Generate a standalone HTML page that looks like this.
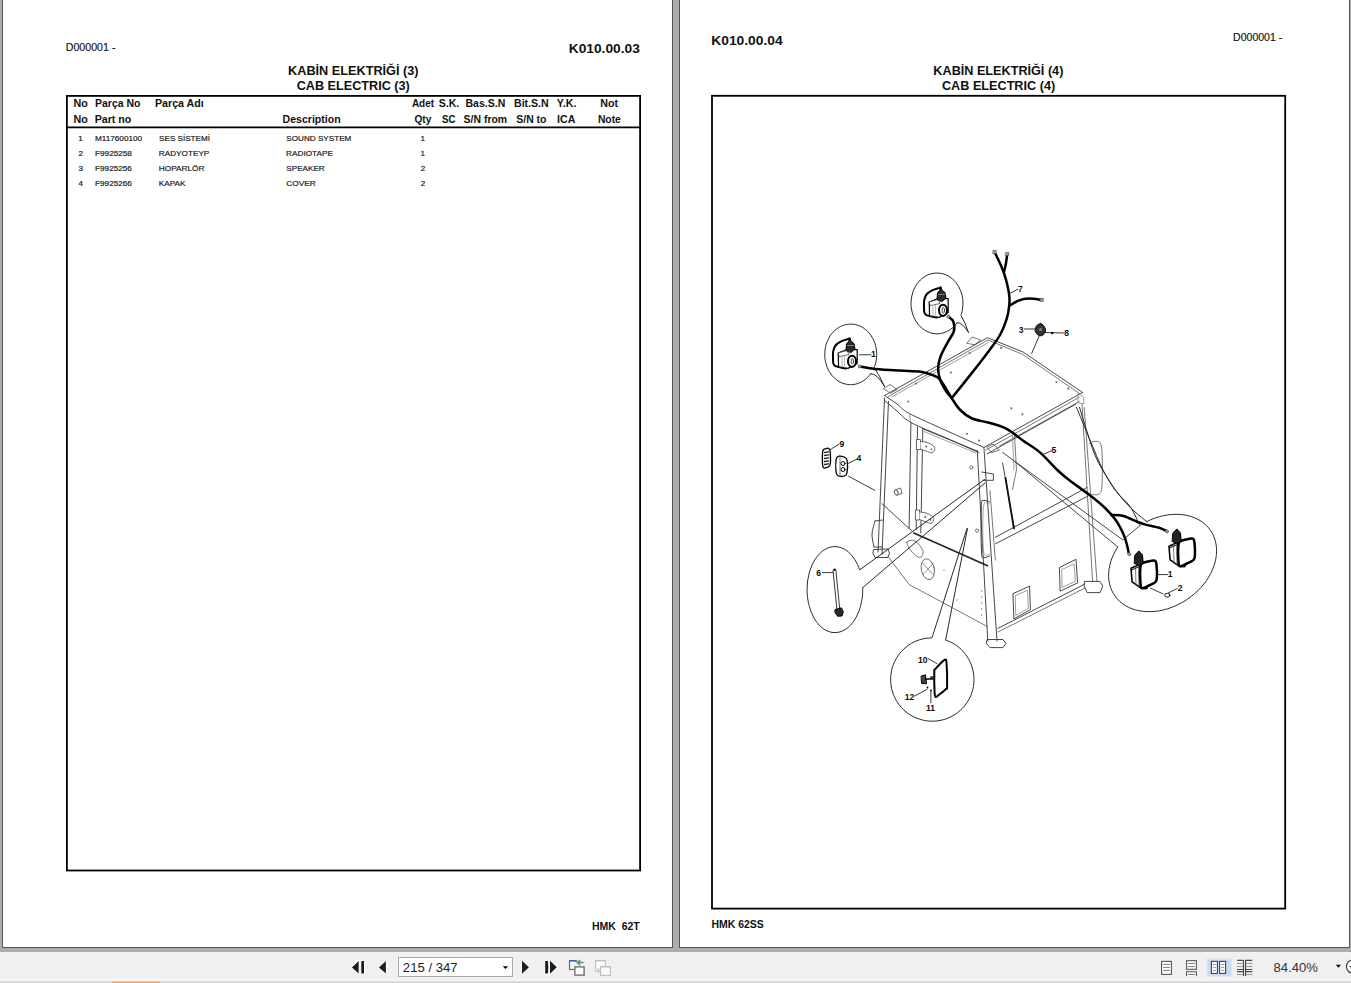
<!DOCTYPE html>
<html><head><meta charset="utf-8">
<style>
html,body{margin:0;padding:0;width:1351px;height:983px;overflow:hidden;background:#adadad;}
svg{display:block;position:absolute;left:0;top:0;}
text{font-family:"Liberation Sans",sans-serif;white-space:pre;}
</style></head><body>
<svg width="1351" height="983" viewBox="0 0 1351 983" xml:space="preserve">
<rect x="0" y="0" width="1351" height="983" fill="#adadad"/>
<rect x="2" y="-5" width="671" height="953" fill="#fff"/>
<rect x="2.5" y="-5" width="670" height="952.5" fill="none" stroke="#555" stroke-width="1"/>
<rect x="679" y="-5" width="671" height="953" fill="#fff"/>
<rect x="679.5" y="-5" width="670" height="952.5" fill="none" stroke="#555" stroke-width="1"/>
<rect x="66.9" y="95.9" width="573.2" height="774.6" fill="none" stroke="#000" stroke-width="1.8"/>
<line x1="67" y1="127.4" x2="640" y2="127.4" stroke="#000" stroke-width="1.6"/>
<rect x="712" y="95.8" width="573.2" height="812.8" fill="none" stroke="#000" stroke-width="1.8"/>
<rect x="0" y="952" width="1351" height="31" fill="#f0f0f0"/>
<rect x="0" y="952" width="1351" height="1" fill="#f3f3f3"/>
<rect x="0" y="978" width="1351" height="3" fill="#f3f3f3"/>
<rect x="0" y="981" width="1351" height="1" fill="#e0e0e0"/>
<rect x="0" y="982" width="1351" height="1" fill="#d2d2d2"/>
<rect x="112" y="981" width="48" height="1" fill="#f0c8a8"/>
<rect x="112" y="982" width="48" height="1" fill="#e9a377"/>
<!-- first page -->
<g stroke="#fff" stroke-width="1.6" stroke-linejoin="round" fill="#1c1c1c">
<path d="M351.9 967.4 L358.7 960.9 L358.7 973.6 Z" paint-order="stroke"/>
<path d="M361.4 961 L364 961 L364 973.6 L361.4 973.6 Q361 967.3 361.4 961 Z" paint-order="stroke"/>
<path d="M378.9 967.4 L385.9 960.9 L385.9 973.6 Z" paint-order="stroke"/>
<path d="M522 960.8 L529 967.3 L522 973.8 Z" paint-order="stroke"/>
<path d="M545.2 961 L548 961 Q548.6 967.3 548 973.6 L545.2 973.6 Z" paint-order="stroke"/>
<path d="M550 960.8 L556.8 967.3 L550 973.8 Z" paint-order="stroke"/>
</g>
<!-- page box -->
<rect x="398.5" y="957.5" width="114" height="19" fill="#fff" stroke="#a9a9a9" stroke-width="1"/>
<path d="M502.8 966.2 L508.1 966.2 L505.45 969 Z" fill="#000"/>
<!-- icon 5 -->
<path d="M569.6 969.8 L569.6 960.8 L576.5 960.8" fill="none" stroke="#6a6a6a" stroke-width="1.3"/>
<rect x="569.3" y="960" width="7.5" height="1.6" fill="#3f5f9f"/>
<rect x="570.5" y="961.6" width="4" height="7.4" fill="#f7fbf4"/>
<path d="M569.6 969.5 L574 969.5" stroke="#6a6a6a" stroke-width="1.2"/>
<rect x="574.9" y="966.9" width="9.2" height="8.2" fill="#fff" stroke="#707070" stroke-width="1.4"/>
<path d="M583.5 962.6 L577.5 962.6 M580.2 960.2 L577.3 962.6 L580.2 965.2" fill="none" stroke="#5e8f76" stroke-width="1.5"/>
<!-- icon 6 disabled -->
<path d="M595.6 969 L595.6 960.6 L605.4 960.6 L605.4 966" fill="#fafafa" stroke="#bdbdbd" stroke-width="1.1"/>
<rect x="600.6" y="966.6" width="9.8" height="8.8" fill="#f8fafc" stroke="#bdbdbd" stroke-width="1.1"/>
<rect x="600.6" y="966" width="9.8" height="1.4" fill="#b9bdc8"/>
<path d="M594.5 970.8 L599.5 970.8 M597.6 968.8 L599.8 970.8 L597.6 972.8" fill="none" stroke="#b8ccbf" stroke-width="1.3"/>
<!-- view icons -->
<g fill="#fff" stroke="#555" stroke-width="1.1">
<rect x="1161.6" y="961.4" width="9.8" height="13"/>
</g>
<g stroke="#7a7a7a" stroke-width="1">
<path d="M1163.2 964.4 H1169.8 M1163.2 967.4 H1169.8 M1163.2 970.4 H1169.8"/>
</g>
<g fill="#fff" stroke="#555" stroke-width="1.1">
<rect x="1186.6" y="960.7" width="9.8" height="8.6"/>
<path d="M1186.6 976 V971.8 H1196.4 V976"/>
</g>
<g stroke="#7a7a7a" stroke-width="1">
<path d="M1188.2 963.5 H1194.8 M1188.2 966.6 H1194.8 M1188.2 974.5 H1194.8"/>
</g>
<rect x="1207.1" y="958.9" width="24.4" height="17.3" fill="#cbdaf3" stroke="#dbe6f7" stroke-width="1"/>
<g fill="#fff" stroke="#3f4658" stroke-width="1.1">
<rect x="1211.4" y="961.4" width="6" height="12"/>
<rect x="1219.6" y="961.4" width="6" height="12"/>
</g>
<g stroke="#8a8a8a" stroke-width="0.9">
<path d="M1213 964.5 H1216 M1213 967.4 H1216 M1213 970.4 H1216 M1221.2 964.5 H1224.2 M1221.2 967.4 H1224.2 M1221.2 970.4 H1224.2"/>
</g>
<g stroke="#4a4a4a" stroke-width="1.2">
<path d="M1243.5 960 V976 M1245.6 960 V976 M1237 960.4 H1243.5 M1245.6 960.4 H1252.3 M1237 969.5 H1243.5 M1245.6 969.5 H1252.3 M1237 971.6 H1243.5 M1245.6 971.6 H1252.3"/>
</g>
<g stroke="#8a8a8a" stroke-width="0.9">
<path d="M1237 963.5 H1242.5 M1246.6 963.5 H1252.3 M1237 966.5 H1242.5 M1246.6 966.5 H1252.3 M1237 974.5 H1242.5 M1246.6 974.5 H1252.3"/>
</g>
<path d="M1335.9 964.8 L1340.9 964.8 L1338.4 967.8 Z" fill="#000"/>
<circle cx="1353" cy="966.6" r="6.6" fill="#fff" stroke="#3a3a3a" stroke-width="1.2"/>
<path d="M1349.5 966.6 H1356" stroke="#333" stroke-width="1.3"/>

<g stroke-linecap="round" stroke-linejoin="round">
<path d="M884.5 395.5 L987.5 337.7 L1023.2 352.1 L1082.5 392.5" stroke="#333" stroke-width="0.9" fill="none"/>
<path d="M888.5 396.5 L988.0 340.0 L1022.5 354.3 L1079.5 393.5" stroke="#555" stroke-width="0.8" fill="none"/>
<path d="M892.0 397.0 L988.5 342.5" stroke="#888" stroke-width="0.8" fill="none"/>
<path d="M1082.5 392.5 L984.0 447.5" stroke="#333" stroke-width="0.9" fill="none"/>
<path d="M1079.4 397.2 L985.8 450.0" stroke="#555" stroke-width="0.8" fill="none"/>
<path d="M1079.4 401.5 L999.4 446.0" stroke="#555" stroke-width="0.8" fill="none"/>
<path d="M1076.0 404.0 L987.0 454.0" stroke="#333" stroke-width="0.9" fill="none"/>
<path d="M884.5 395.5 C886.6 396.9 892.9 401.0 897.0 404.0 C901.1 407.0 901.2 409.1 909.2 413.4 C917.2 417.7 932.5 424.3 945.0 430.0 C957.5 435.7 977.5 444.6 984.0 447.5" stroke="#333" stroke-width="0.9" fill="none"/>
<path d="M884.5 400.5 C886.6 402.2 892.6 407.3 897.0 411.0 C901.4 414.7 902.9 418.1 910.9 422.5 C918.9 426.9 933.6 432.5 945.0 437.5 C956.4 442.5 973.3 450.1 979.0 452.6" stroke="#333" stroke-width="0.9" fill="none"/>
<path d="M909.2 413.4 L910.9 422.5" stroke="#888" stroke-width="0.8" fill="none"/>
<path d="M884.5 398.0 L878.0 552.0" stroke="#333" stroke-width="0.9" fill="none"/>
<path d="M888.5 401.5 L882.0 554.0" stroke="#333" stroke-width="0.9" fill="none"/>
<path d="M874.0 549.5 L888.0 549.0 L889.5 553.0 L888.0 557.5 L875.0 557.5 L873.0 553.5 Z" stroke="#333" stroke-width="0.9" fill="none"/>
<path d="M875.0 521.0 C874.5 523.2 872.2 529.7 872.0 534.0 C871.8 538.3 873.7 544.8 874.0 547.0" stroke="#333" stroke-width="0.9" fill="none"/>
<path d="M875.0 521.0 L883.0 520.0" stroke="#333" stroke-width="0.9" fill="none"/>
<path d="M874.0 547.0 L882.0 547.0" stroke="#333" stroke-width="0.9" fill="none"/>
<path d="M910.9 422.5 L909.1 528.3" stroke="#333" stroke-width="0.9" fill="none"/>
<path d="M917.5 427.0 L916.2 529.5" stroke="#333" stroke-width="0.9" fill="none"/>
<path d="M922.8 428.7 L920.8 533.0" stroke="#333" stroke-width="0.9" fill="none"/>
<path d="M922.8 428.7 L977.0 451.0" stroke="#333" stroke-width="0.9" fill="none"/>
<path d="M924.0 431.5 L976.0 453.0" stroke="#888" stroke-width="0.8" fill="none"/>
<path d="M916.8 439.5 L920.5 439.5 L920.5 449.5 L916.8 449.5 Z" stroke="#444" stroke-width="0.8" fill="#fff"/>
<path d="M920.5 441.5 C921.6 441.7 924.8 441.8 927.0 442.5 C929.2 443.2 932.2 444.8 933.5 446.0 C934.8 447.2 934.9 448.4 934.6 449.5 C934.4 450.6 933.4 452.6 932.0 452.8 C930.6 453.1 927.9 451.6 926.0 451.0 C924.1 450.4 921.4 449.3 920.5 449.0" stroke="#444" stroke-width="0.8" fill="#fff"/>
<circle cx="926.2" cy="446.5" r="0.9" fill="#555"/>
<circle cx="931.5" cy="449.3" r="0.9" fill="#555"/>
<path d="M915.8 510.0 L919.5 510.0 L919.5 520.0 L915.8 520.0 Z" stroke="#444" stroke-width="0.8" fill="#fff"/>
<path d="M919.5 512.0 C920.6 512.2 923.8 512.2 926.0 513.0 C928.2 513.8 931.2 515.3 932.5 516.5 C933.8 517.7 933.9 518.9 933.6 520.0 C933.4 521.1 932.4 523.0 931.0 523.3 C929.6 523.5 926.9 522.1 925.0 521.5 C923.1 520.9 920.4 519.8 919.5 519.5" stroke="#444" stroke-width="0.8" fill="#fff"/>
<circle cx="925.2" cy="517.0" r="0.9" fill="#555"/>
<circle cx="930.5" cy="519.8" r="0.9" fill="#555"/>
<path d="M977.3 450.5 L987.8 641.0" stroke="#333" stroke-width="0.9" fill="none"/>
<path d="M984.0 448.7 L997.0 641.0" stroke="#333" stroke-width="0.9" fill="none"/>
<path d="M987.5 639.5 L1003.0 639.5 L1006.0 643.5 L1003.0 647.6 L990.0 647.6 L986.5 643.5 Z" stroke="#333" stroke-width="0.9" fill="none"/>
<path d="M981.7 472.0 L993.4 474.0 L993.4 480.3 L983.0 480.3" stroke="#333" stroke-width="0.9" fill="none"/>
<path d="M989.5 502.0 C988.6 501.8 985.4 499.8 984.0 500.5 C982.6 501.2 981.7 497.4 981.3 506.0 C980.9 514.6 981.0 543.4 981.5 552.0 C982.0 560.6 982.7 556.7 984.0 557.4 C985.3 558.1 988.6 556.2 989.5 556.0" stroke="#333" stroke-width="1" fill="none"/>
<path d="M989.5 504.0 C988.5 504.4 984.5 498.7 983.5 506.5 C982.5 514.3 982.5 543.1 983.5 551.0 C984.5 558.9 988.5 553.5 989.5 554.0" stroke="#888" stroke-width="0.8" fill="none"/>
<path d="M882.0 503.7 L911.5 530.6" stroke="#333" stroke-width="0.9" fill="none"/>
<path d="M913.8 533.0 L987.5 565.7" stroke="#222" stroke-width="1.6" fill="none"/>
<path d="M888.0 556.4 L909.1 584.5 L987.5 626.6" stroke="#555" stroke-width="0.8" fill="none"/>
<path d="M906.8 542.3 C907.3 540.5 912.3 539.5 915.0 541.0 C917.7 542.5 922.2 548.2 923.0 551.0 C923.8 553.8 921.8 557.3 920.0 557.5 C918.2 557.7 914.2 554.5 912.0 552.0 C909.8 549.5 906.3 544.1 906.8 542.3 Z" stroke="#555" stroke-width="0.8" fill="none"/>
<ellipse cx="927.8" cy="569.2" rx="6.5" ry="10.5" transform="rotate(-12 927.8 569.2)" fill="none" stroke="#555" stroke-width="0.8"/>
<path d="M922.5 575 L933.5 563 M922.5 563 L933.5 575" stroke="#666" stroke-width="0.7" fill="none"/>
<path d="M895.5 489.8 L900.5 488.0 L902.0 493.3 L897.0 495.2 Z" stroke="#444" stroke-width="0.8" fill="#fff"/>
<ellipse cx="896.2" cy="492.5" rx="1.8" ry="2.8" transform="rotate(-20 896.2 492.5)" fill="#fff" stroke="#444" stroke-width="0.8"/>
<path d="M995.4 537.3 L1087.0 487.5" stroke="#333" stroke-width="0.9" fill="none"/>
<path d="M995.4 543.8 L1088.0 496.0" stroke="#333" stroke-width="0.9" fill="none"/>
<path d="M997.9 628.4 L1085.0 584.0" stroke="#333" stroke-width="0.9" fill="none"/>
<path d="M998.0 632.0 L1085.0 588.0" stroke="#555" stroke-width="0.8" fill="none"/>
<path d="M1013.3 593.5 L1029.6 586.1 L1030.4 609.7 L1014.2 618.7 Z" stroke="#333" stroke-width="0.9" fill="none"/>
<path d="M1015.6 595.6 L1027.6 590.2 L1028.3 608.3 L1016.1 615.3 Z" stroke="#888" stroke-width="0.8" fill="none"/>
<path d="M1059.7 567.4 L1076.0 559.3 L1077.6 582.9 L1060.5 591.0 Z" stroke="#333" stroke-width="0.9" fill="none"/>
<path d="M1062.0 569.5 L1074.0 564.0 L1075.4 581.3 L1062.5 587.3 Z" stroke="#888" stroke-width="0.8" fill="none"/>
<path d="M1082.0 404.0 L1092.6 581.4" stroke="#555" stroke-width="0.8" fill="none"/>
<path d="M1084.2 407.4 L1097.0 581.4" stroke="#555" stroke-width="0.8" fill="none"/>
<path d="M1084.8 581.4 L1100.0 581.4 L1102.7 586.0 L1100.0 592.6 L1087.0 592.6 L1084.2 586.0 Z" stroke="#333" stroke-width="0.9" fill="none"/>
<path d="M1089.3 444.0 C1090.2 443.6 1093.0 440.8 1095.0 441.3 C1097.0 441.8 1100.3 439.7 1101.5 447.0 C1102.7 454.3 1102.4 477.2 1102.0 485.0 C1101.6 492.8 1100.7 492.4 1099.0 494.0 C1097.3 495.6 1093.2 494.4 1092.0 494.5" stroke="#555" stroke-width="0.8" fill="none"/>
<path d="M1078.3 393.7 L1083.8 397.0 L1083.8 403.8 L1078.3 403.0 Z" stroke="#888" stroke-width="0.8" fill="none"/>
<path d="M1076.5 407.4 C1078.8 412.8 1085.6 429.6 1090.0 440.0 C1094.4 450.4 1098.7 461.5 1103.0 470.0 C1107.3 478.5 1111.2 484.7 1115.7 490.8 C1120.2 496.9 1126.2 500.9 1130.2 506.7 C1134.2 512.5 1138.3 522.5 1139.9 525.6" stroke="#2a2a2a" stroke-width="1" fill="none"/>
<path d="M1079.5 407.4 C1082.0 415.1 1089.6 441.6 1094.5 453.8 C1099.4 466.0 1104.4 472.8 1109.0 480.3 C1113.6 487.8 1118.1 493.7 1122.3 498.8 C1126.5 503.9 1129.9 507.2 1134.0 511.0 C1138.1 514.8 1144.8 519.9 1147.0 521.7" stroke="#2a2a2a" stroke-width="1" fill="none"/>
<path d="M1002.6 463.0 L1014.5 529.2" stroke="#333" stroke-width="0.9" fill="none"/>
<path d="M1005.5 478.0 L1013.8 528.0" stroke="#111" stroke-width="1.8" fill="none"/>
<path d="M1014.5 435.3 L1016.5 469.7 L1012.5 489.5" stroke="#555" stroke-width="0.8" fill="none"/>
<path d="M1012.5 436.0 L1014.0 470.0" stroke="#888" stroke-width="0.8" fill="none"/>
<path d="M990.0 490.8 L995.3 560.0" stroke="#555" stroke-width="0.8" fill="none"/>
<path d="M883.6 388.5 L890.0 384.5 L897.2 389.5 L891.0 393.0 Z" stroke="#555" stroke-width="0.8" fill="none"/>
<path d="M967.0 343.0 L972.0 337.0 L980.7 340.0 L975.0 344.5 Z" stroke="#555" stroke-width="0.8" fill="none"/>
<path d="M987.5 447.0 L993.0 444.0 L999.4 450.0 L992.0 452.6 Z" stroke="#555" stroke-width="0.8" fill="none"/>
<path d="M1002.6 452.5 L1122.8 539.9 L1139.9 525.6" stroke="#333" stroke-width="0.9" fill="none"/>
<path d="M1015.1 461.7 L1117.8 547.0" stroke="#333" stroke-width="0.9" fill="none"/>
<path d="M848.4 476.1 L874.8 490.4" stroke="#222" stroke-width="0.9" fill="none"/>
<path d="M830.0 449.8 L839.2 444.0" stroke="#222" stroke-width="0.9" fill="none"/>
<path d="M845.6 464.7 L857.0 459.0" stroke="#222" stroke-width="0.9" fill="none"/>
<path d="M859.4 354.8 L871.0 354.8" stroke="#222" stroke-width="0.9" fill="none"/>
<path d="M1009.9 293.3 L1017.8 289.3" stroke="#222" stroke-width="0.9" fill="none"/>
<path d="M1024.4 329.0 L1035.7 329.0" stroke="#222" stroke-width="0.9" fill="none"/>
<path d="M1045.0 332.5 L1064.3 333.0" stroke="#222" stroke-width="0.9" fill="none"/>
<path d="M1039.0 336.3 L1031.7 353.5" stroke="#222" stroke-width="0.9" fill="none"/>
<path d="M1042.9 454.5 L1052.2 450.5" stroke="#222" stroke-width="0.9" fill="none"/>
<path d="M822.4 572.6 L833.0 572.6" stroke="#222" stroke-width="0.9" fill="none"/>
<path d="M1157.2 574.6 L1167.8 574.6" stroke="#222" stroke-width="0.9" fill="none"/>
<path d="M1168.3 593.0 L1177.0 588.6" stroke="#222" stroke-width="0.9" fill="none"/>
<path d="M1150.4 588.1 L1163.0 593.9" stroke="#222" stroke-width="0.9" fill="none"/>
<path d="M928.1 658.6 L937.0 663.6" stroke="#222" stroke-width="0.9" fill="none"/>
<path d="M914.7 696.0 L927.0 689.4" stroke="#222" stroke-width="0.9" fill="none"/>
<path d="M930.9 702.8 L930.9 691.6" stroke="#222" stroke-width="0.9" fill="none"/>
<path d="M870.6 373.8 C870.1 374.4 868.7 376.3 867.6 377.4 C866.5 378.5 865.3 379.5 864.0 380.4 C862.8 381.3 861.5 382.0 860.1 382.6 C858.8 383.2 857.4 383.7 856.0 384.1 C854.5 384.4 853.1 384.6 851.6 384.7 C850.2 384.7 848.7 384.7 847.3 384.4 C845.8 384.2 844.4 383.8 843.0 383.4 C841.6 382.9 840.3 382.2 839.0 381.5 C837.7 380.7 836.4 379.8 835.3 378.8 C834.1 377.8 833.0 376.7 832.0 375.5 C831.0 374.2 830.1 372.9 829.2 371.5 C828.4 370.1 827.7 368.6 827.1 367.1 C826.5 365.6 826.0 364.0 825.6 362.3 C825.2 360.7 825.0 359.0 824.8 357.3 C824.7 355.7 824.7 354.0 824.8 352.3 C824.9 350.6 825.1 348.9 825.4 347.3 C825.8 345.6 826.2 344.0 826.8 342.4 C827.4 340.9 828.1 339.4 828.9 338.0 C829.6 336.5 830.5 335.2 831.5 333.9 C832.5 332.7 833.6 331.5 834.7 330.5 C835.9 329.5 837.1 328.5 838.4 327.7 C839.6 326.9 841.0 326.2 842.4 325.7 C843.7 325.2 845.2 324.7 846.6 324.5 C848.0 324.2 849.5 324.1 850.9 324.1 C852.4 324.1 853.8 324.3 855.3 324.6 C856.7 324.9 858.1 325.3 859.5 325.9 C860.8 326.4 862.2 327.2 863.4 328.0 C864.7 328.8 865.9 329.8 867.0 330.8 C868.2 331.9 869.2 333.1 870.2 334.3 C871.1 335.6 872.0 337.0 872.8 338.4 C873.5 339.8 874.2 341.4 874.8 342.9 C875.3 344.5 875.8 346.1 876.1 347.8 C876.4 349.4 876.6 351.1 876.7 352.8 C876.7 354.5 876.7 356.2 876.5 357.9 C876.4 359.5 876.1 361.2 875.7 362.8 C875.3 364.5 874.4 366.8 874.1 367.6 Q880 376 884.5 386.5" stroke="#2a2a2a" stroke-width="1" fill="none"/>
<path d="M870.6 373.8 Q877 373 884.5 386.5" stroke="#2a2a2a" stroke-width="1" fill="none"/>
<path d="M957.1 322.7 C956.6 323.3 955.1 325.3 954.0 326.4 C953.0 327.5 951.8 328.5 950.6 329.3 C949.3 330.2 948.0 331.0 946.7 331.6 C945.4 332.2 944.0 332.7 942.6 333.1 C941.2 333.5 939.7 333.7 938.3 333.8 C936.8 333.8 935.4 333.8 933.9 333.6 C932.5 333.4 931.1 333.1 929.7 332.6 C928.3 332.1 927.0 331.5 925.7 330.8 C924.4 330.0 923.1 329.2 921.9 328.2 C920.8 327.2 919.7 326.1 918.6 324.9 C917.6 323.7 916.7 322.4 915.8 321.1 C915.0 319.7 914.3 318.2 913.6 316.7 C913.0 315.2 912.5 313.6 912.1 312.0 C911.7 310.4 911.4 308.7 911.2 307.1 C911.0 305.4 911.0 303.7 911.0 302.0 C911.1 300.3 911.3 298.6 911.6 297.0 C911.9 295.4 912.3 293.7 912.8 292.2 C913.4 290.6 914.0 289.1 914.8 287.6 C915.5 286.2 916.4 284.8 917.3 283.5 C918.3 282.3 919.3 281.1 920.4 280.0 C921.5 278.9 922.7 277.9 924.0 277.1 C925.2 276.3 926.5 275.5 927.9 274.9 C929.2 274.4 930.6 273.9 932.0 273.6 C933.4 273.2 934.9 273.1 936.3 273.0 C937.8 273.0 939.2 273.1 940.6 273.3 C942.1 273.5 943.5 273.9 944.9 274.4 C946.2 274.9 947.6 275.6 948.9 276.3 C950.1 277.1 951.4 278.0 952.5 279.0 C953.7 280.0 954.8 281.1 955.8 282.4 C956.8 283.6 957.7 284.9 958.5 286.3 C959.3 287.7 960.0 289.2 960.6 290.7 C961.2 292.2 961.7 293.8 962.1 295.4 C962.5 297.1 962.7 298.7 962.9 300.4 C963.0 302.1 963.0 303.8 962.9 305.5 C962.8 307.2 962.6 308.8 962.3 310.5 C962.0 312.1 961.2 314.5 960.9 315.3 Q965 322 968.4 332.2" stroke="#2a2a2a" stroke-width="1" fill="none"/>
<path d="M957.1 322.7 Q962 322 968.4 332.2" stroke="#2a2a2a" stroke-width="1" fill="none"/>
<path d="M862.7 587.7 C862.7 588.8 862.7 591.9 862.6 594.0 C862.4 596.1 862.2 598.2 861.8 600.2 C861.5 602.2 861.1 604.2 860.6 606.2 C860.0 608.1 859.4 610.0 858.7 611.8 C858.0 613.5 857.2 615.3 856.4 616.9 C855.5 618.5 854.6 620.0 853.6 621.4 C852.6 622.8 851.5 624.2 850.4 625.3 C849.3 626.5 848.1 627.5 846.9 628.4 C845.6 629.3 844.4 630.1 843.1 630.7 C841.8 631.3 840.4 631.8 839.1 632.1 C837.8 632.4 836.4 632.6 835.1 632.6 C833.7 632.6 832.3 632.5 831.0 632.2 C829.7 631.9 828.3 631.4 827.0 630.8 C825.7 630.3 824.5 629.5 823.2 628.6 C822.0 627.8 820.8 626.7 819.7 625.6 C818.5 624.4 817.5 623.2 816.5 621.8 C815.4 620.4 814.5 618.9 813.6 617.3 C812.7 615.7 811.9 613.9 811.2 612.2 C810.5 610.4 809.9 608.5 809.4 606.6 C808.8 604.7 808.4 602.7 808.0 600.7 C807.7 598.6 807.4 596.6 807.3 594.5 C807.1 592.4 807.1 590.3 807.1 588.2 C807.2 586.1 807.3 584.0 807.5 582.0 C807.8 579.9 808.1 577.9 808.6 575.9 C809.0 573.9 809.5 571.9 810.1 570.1 C810.7 568.2 811.5 566.4 812.2 564.7 C813.0 563.0 813.9 561.4 814.8 559.9 C815.8 558.4 816.8 556.9 817.8 555.7 C818.9 554.4 820.0 553.2 821.2 552.2 C822.4 551.1 823.6 550.2 824.9 549.5 C826.2 548.7 827.5 548.1 828.8 547.7 C830.1 547.2 831.4 546.9 832.8 546.7 C834.1 546.6 835.5 546.6 836.9 546.7 C838.2 546.9 839.6 547.2 840.9 547.6 C842.2 548.1 843.5 548.7 844.8 549.4 C846.0 550.1 847.3 551.0 848.5 552.1 C849.6 553.1 850.8 554.2 851.8 555.5 C852.9 556.8 853.9 558.2 854.9 559.7 C855.8 561.2 856.7 562.8 857.5 564.5 C858.3 566.2 859.2 569.0 859.6 569.9 L984.5 479.5" stroke="#2a2a2a" stroke-width="1" fill="none"/>
<path d="M862.7 587.7 L985 483" stroke="#2a2a2a" stroke-width="1" fill="none"/>
<path d="M945.6 640.0 C946.6 640.4 949.5 641.5 951.3 642.4 C953.2 643.3 955.0 644.4 956.6 645.6 C958.3 646.8 959.9 648.2 961.4 649.6 C962.9 651.1 964.2 652.6 965.5 654.3 C966.7 655.9 967.9 657.7 968.9 659.5 C969.9 661.3 970.7 663.2 971.4 665.1 C972.1 667.0 972.7 669.0 973.1 671.1 C973.6 673.1 973.8 675.1 973.9 677.2 C974.1 679.3 974.0 681.3 973.8 683.4 C973.6 685.5 973.3 687.5 972.8 689.5 C972.3 691.5 971.6 693.5 970.9 695.4 C970.1 697.3 969.1 699.2 968.1 700.9 C967.0 702.7 965.8 704.4 964.5 706.0 C963.2 707.6 961.7 709.1 960.2 710.5 C958.7 711.9 957.0 713.1 955.3 714.3 C953.6 715.4 951.8 716.4 949.9 717.3 C948.0 718.2 946.1 718.9 944.1 719.5 C942.1 720.1 940.1 720.5 938.0 720.8 C936.0 721.1 933.9 721.2 931.9 721.2 C929.8 721.2 927.7 721.0 925.7 720.7 C923.7 720.3 921.6 719.9 919.7 719.2 C917.7 718.6 915.8 717.8 913.9 716.9 C912.1 716.0 910.3 715.0 908.6 713.8 C906.9 712.6 905.2 711.3 903.7 709.9 C902.2 708.5 900.8 706.9 899.6 705.3 C898.3 703.7 897.1 702.0 896.1 700.2 C895.1 698.4 894.2 696.5 893.4 694.6 C892.7 692.7 892.1 690.7 891.6 688.7 C891.2 686.7 890.9 684.6 890.7 682.5 C890.6 680.5 890.6 678.4 890.7 676.3 C890.9 674.3 891.2 672.2 891.6 670.2 C892.1 668.2 892.7 666.2 893.5 664.3 C894.2 662.4 895.1 660.5 896.2 658.7 C897.2 656.9 898.4 655.2 899.6 653.6 C900.9 652.0 902.3 650.4 903.8 649.0 C905.4 647.6 907.0 646.3 908.7 645.1 C910.4 644.0 912.2 642.9 914.0 642.0 C915.9 641.1 917.8 640.3 919.8 639.7 C921.8 639.1 923.8 638.6 925.8 638.3 C927.9 638.0 931.0 637.9 932.0 637.8 L967 528.5" stroke="#2a2a2a" stroke-width="1" fill="none"/>
<path d="M945.6 640.0 L967.5 528.5" stroke="#2a2a2a" stroke-width="1" fill="none"/>
<path d="M1146.9 521.5 C1147.6 521.2 1149.6 520.2 1151.0 519.6 C1152.3 519.1 1153.7 518.5 1155.1 518.0 C1156.5 517.6 1157.9 517.1 1159.3 516.7 C1160.7 516.3 1162.1 516.0 1163.5 515.7 C1164.9 515.4 1166.3 515.1 1167.7 514.9 C1169.1 514.7 1170.4 514.6 1171.8 514.5 C1173.2 514.4 1174.6 514.3 1175.9 514.3 C1177.3 514.3 1178.6 514.4 1179.9 514.4 C1181.3 514.5 1182.6 514.7 1183.9 514.9 C1185.2 515.1 1186.4 515.3 1187.7 515.6 C1188.9 515.9 1190.1 516.2 1191.3 516.6 C1192.5 517.0 1193.6 517.4 1194.8 517.9 C1195.9 518.3 1197.0 518.8 1198.0 519.4 C1199.1 520.0 1200.1 520.6 1201.1 521.2 C1202.1 521.9 1203.0 522.6 1203.9 523.3 C1204.8 524.0 1205.7 524.8 1206.5 525.6 C1207.3 526.4 1208.1 527.3 1208.8 528.1 C1209.5 529.0 1210.2 529.9 1210.8 530.9 C1211.5 531.8 1212.0 532.8 1212.6 533.8 C1213.1 534.8 1213.6 535.9 1214.0 536.9 C1214.4 538.0 1214.8 539.1 1215.1 540.2 C1215.5 541.3 1215.7 542.5 1215.9 543.6 C1216.2 544.8 1216.3 545.9 1216.4 547.1 C1216.5 548.3 1216.6 549.5 1216.6 550.8 C1216.6 552.0 1216.5 553.2 1216.4 554.5 C1216.3 555.7 1216.2 556.9 1215.9 558.2 C1215.7 559.5 1215.5 560.7 1215.1 562.0 C1214.8 563.2 1214.4 564.5 1214.0 565.8 C1213.6 567.0 1213.1 568.3 1212.6 569.5 C1212.0 570.8 1211.5 572.0 1210.8 573.3 C1210.2 574.5 1209.5 575.7 1208.8 576.9 C1208.1 578.1 1207.3 579.3 1206.5 580.5 C1205.7 581.7 1204.8 582.8 1203.9 584.0 C1203.0 585.1 1202.1 586.2 1201.1 587.3 C1200.1 588.4 1199.1 589.5 1198.0 590.5 C1197.0 591.6 1195.9 592.6 1194.7 593.6 C1193.6 594.5 1192.5 595.5 1191.3 596.4 C1190.1 597.3 1188.9 598.2 1187.6 599.1 C1186.4 599.9 1185.1 600.7 1183.9 601.5 C1182.6 602.3 1181.3 603.0 1179.9 603.7 C1178.6 604.4 1177.3 605.0 1175.9 605.6 C1174.6 606.3 1173.2 606.8 1171.8 607.3 C1170.4 607.9 1169.0 608.3 1167.6 608.8 C1166.3 609.2 1164.9 609.6 1163.5 609.9 C1162.1 610.3 1160.7 610.5 1159.3 610.8 C1157.9 611.0 1156.5 611.2 1155.1 611.4 C1153.7 611.5 1152.3 611.6 1151.0 611.6 C1149.6 611.7 1148.2 611.7 1146.9 611.6 C1145.6 611.6 1144.2 611.5 1142.9 611.3 C1141.6 611.2 1140.3 611.0 1139.1 610.7 C1137.8 610.5 1136.6 610.2 1135.4 609.9 C1134.2 609.5 1133.0 609.1 1131.8 608.7 C1130.7 608.3 1129.6 607.8 1128.5 607.3 C1127.4 606.7 1126.4 606.2 1125.3 605.6 C1124.3 604.9 1123.4 604.3 1122.4 603.6 C1121.5 602.9 1120.6 602.2 1119.7 601.4 C1118.9 600.6 1118.1 599.8 1117.3 598.9 C1116.6 598.1 1115.8 597.2 1115.2 596.3 C1114.5 595.4 1113.9 594.4 1113.3 593.4 C1112.7 592.4 1112.2 591.4 1111.7 590.4 C1111.3 589.3 1110.9 588.3 1110.5 587.2 C1110.1 586.1 1109.8 585.0 1109.6 583.8 C1109.3 582.7 1109.1 581.5 1108.9 580.3 C1108.8 579.2 1108.7 578.0 1108.6 576.7 C1108.6 575.5 1108.6 574.3 1108.7 573.1 C1108.7 571.8 1108.8 570.6 1109.0 569.3 C1109.2 568.1 1109.4 566.8 1109.7 565.6 C1110.0 564.3 1110.3 563.1 1110.7 561.8 C1111.1 560.5 1111.5 559.3 1112.0 558.0 C1112.5 556.8 1113.0 555.5 1113.6 554.3 C1114.2 553.0 1114.9 551.8 1115.5 550.6 C1116.2 549.4 1117.4 547.6 1117.7 547.0" stroke="#2a2a2a" stroke-width="1" fill="none"/>
<circle cx="969.6" cy="353" r="1.1" fill="#777"/>
<circle cx="1001.1" cy="347.9" r="1.1" fill="#777"/>
<circle cx="950.9" cy="372.6" r="1.1" fill="#777"/>
<circle cx="916" cy="383.6" r="1.1" fill="#777"/>
<circle cx="908.3" cy="401.5" r="1.1" fill="#777"/>
<circle cx="1011.3" cy="408.3" r="1.1" fill="#777"/>
<circle cx="1022.4" cy="414.3" r="1.1" fill="#777"/>
<circle cx="1056.4" cy="382" r="1.1" fill="#777"/>
<circle cx="1068.3" cy="388.7" r="1.1" fill="#777"/>
<circle cx="967" cy="433.8" r="1.1" fill="#777"/>
<circle cx="979" cy="440.7" r="1.1" fill="#777"/>
<circle cx="971.2" cy="467.4" r="1.6" fill="none" stroke="#555" stroke-width="0.8"/>
<circle cx="977" cy="530.6" r="1.6" fill="none" stroke="#555" stroke-width="0.8"/>
<circle cx="981.7" cy="591" r="0.7" fill="#777"/>
<circle cx="981.7" cy="597" r="0.7" fill="#777"/>
<circle cx="981.7" cy="603" r="0.7" fill="#777"/>
<circle cx="981.7" cy="609" r="0.7" fill="#777"/>
<circle cx="981.7" cy="615" r="0.7" fill="#777"/>
<circle cx="944" cy="570" r="0.7" fill="#777"/>
<circle cx="957" cy="600" r="0.7" fill="#777"/>
<circle cx="951" cy="580" r="0.7" fill="#777"/>
<path d="M859.9 366.6 C862.5 367.0 868.7 368.3 875.4 369.0 C882.1 369.7 892.4 370.2 900.0 370.6 C907.6 371.1 915.3 370.8 921.1 371.7 C926.9 372.6 931.6 374.7 934.7 376.0 C937.8 377.3 937.8 377.1 939.8 379.4 C941.8 381.7 944.6 386.5 946.6 389.6 C948.6 392.7 949.4 394.7 951.7 398.1 C954.0 401.5 956.8 406.6 960.2 410.0 C963.6 413.4 967.3 416.4 972.1 418.5 C976.9 420.6 983.5 421.1 989.2 422.8 C994.9 424.5 1000.5 425.7 1006.2 428.7 C1011.9 431.7 1017.5 436.7 1023.2 440.7 C1028.9 444.7 1034.5 447.7 1040.2 452.6 C1045.9 457.5 1052.4 465.4 1057.3 470.0 C1062.2 474.6 1064.1 476.2 1069.4 480.3 C1074.7 484.4 1083.2 490.2 1089.2 494.8 C1095.2 499.4 1100.7 503.8 1105.1 508.0 C1109.5 512.2 1112.6 515.6 1115.7 520.0 C1118.8 524.4 1121.7 530.3 1123.6 534.5 C1125.5 538.7 1126.1 541.8 1127.0 545.0 C1127.9 548.2 1128.5 552.1 1128.8 553.5" stroke="#000" stroke-width="2.5" fill="none"/>
<path d="M948.5 316.9 C949.3 317.6 952.3 318.9 953.2 321.3 C954.1 323.7 954.9 327.6 953.9 331.2 C952.9 334.8 949.8 338.3 947.5 342.6 C945.2 346.9 942.0 352.5 940.4 356.9 C938.8 361.3 938.0 365.2 938.1 369.2 C938.2 373.2 939.4 377.5 940.7 381.1 C942.0 384.7 944.2 388.2 946.0 391.0 C947.8 393.8 950.8 396.9 951.7 398.1" stroke="#000" stroke-width="2.5" fill="none"/>
<path d="M994.7 252.3 C995.8 254.6 999.4 261.7 1001.3 266.2 C1003.2 270.7 1004.6 274.5 1005.9 279.4 C1007.2 284.2 1008.7 290.9 1009.2 295.3 C1009.8 299.7 1009.6 301.8 1009.2 305.8 C1008.8 309.8 1008.1 314.2 1006.6 319.1 C1005.1 324.0 1002.9 329.8 1000.0 335.0 C997.1 340.2 993.9 344.1 989.2 350.4 C984.6 356.7 978.4 364.7 972.1 372.6 C965.9 380.6 955.1 393.9 951.7 398.1" stroke="#000" stroke-width="2.5" fill="none"/>
<path d="M1007.2 254.3 C1007.0 255.8 1006.5 260.1 1006.0 263.0 C1005.5 265.9 1004.3 270.5 1004.0 272.0" stroke="#000" stroke-width="2.5" fill="none"/>
<path d="M1009.2 305.8 C1010.8 304.9 1015.2 301.8 1018.5 300.6 C1021.8 299.4 1025.2 298.7 1029.0 298.6 C1032.8 298.5 1039.5 299.7 1041.6 299.9" stroke="#000" stroke-width="2.5" fill="none"/>
<path d="M1111.4 515.0 C1113.4 515.2 1119.1 514.8 1123.5 516.0 C1127.9 517.2 1133.9 520.5 1137.7 522.0 C1141.5 523.5 1142.7 523.9 1146.3 524.9 C1149.9 525.9 1155.7 526.8 1159.1 527.8 C1162.5 528.8 1165.6 530.6 1166.9 531.2" stroke="#000" stroke-width="2.5" fill="none"/>
<circle cx="859.6" cy="366.4" r="1.6" fill="#999" stroke="#444" stroke-width="0.5"/>
<circle cx="948.3" cy="316.6" r="1.6" fill="#999" stroke="#444" stroke-width="0.5"/>
<circle cx="1129.2" cy="554.1" r="1.6" fill="#999" stroke="#444" stroke-width="0.5"/>
<circle cx="1166.9" cy="531.4" r="1.6" fill="#999" stroke="#444" stroke-width="0.5"/>
<rect x="993.1" y="250.4" width="3.2" height="3.2" fill="#999" stroke="#444" stroke-width="0.5"/>
<rect x="1005.6" y="252.4" width="3.2" height="3.2" fill="#999" stroke="#444" stroke-width="0.5"/>
<rect x="1040.2" y="298.29999999999995" width="3.2" height="3.2" fill="#999" stroke="#444" stroke-width="0.5"/>
<path d="M849.8 338.5 C848.4 338.9 844.0 340.0 841.6 341.2 C839.2 342.4 836.9 343.8 835.5 345.5 C834.1 347.2 833.6 349.2 833.2 351.3 C832.8 353.4 833.0 356.0 833.0 358.0 C833.0 360.0 833.0 362.1 833.3 363.4 C833.6 364.7 833.9 365.2 835.0 365.8 C836.1 366.4 838.2 366.7 840.0 367.2 C841.8 367.7 845.0 368.4 846.0 368.6" stroke="#000" stroke-width="2" fill="none"/>
<path d="M838.2 353.0 L847.0 349.5 L857.2 349.6 L857.2 363.4 L848.0 368.4 L838.6 366.9 Z" stroke="#000" stroke-width="1.2" fill="#fff"/>
<path d="M838.2 353.0 L847.0 350.5 L849.0 354.5 L840.0 356.5 Z" stroke="#333" stroke-width="0.7" fill="#fff"/>
<path d="M842.0 357.0 L842.0 367.0" stroke="#999" stroke-width="0.7" fill="none"/>
<path d="M844.5 356.0 L844.5 367.6" stroke="#999" stroke-width="0.7" fill="none"/>
<ellipse cx="852.0" cy="361.3" rx="4" ry="5.6" fill="#fff" stroke="#000" stroke-width="2"/>
<ellipse cx="852.3" cy="361.3" rx="1.2" ry="3" fill="none" stroke="#222" stroke-width="0.8"/>
<path d="M846.0 350.0 L846.5 344.0 L848.5 341.5 L849.8 337.8 L851.3 341.5 L854.0 343.5 L855.0 349.0 L851.0 352.5 Z" stroke="#000" stroke-width="1" fill="#2a2a2a"/>
<path d="M847.5 345.5 L853.5 345.5" stroke="#bbb" stroke-width="0.6" fill="none"/>
<path d="M940.8 287.5 C939.4 287.9 935.0 289.0 932.6 290.2 C930.2 291.4 927.9 292.8 926.5 294.5 C925.1 296.2 924.6 298.2 924.2 300.3 C923.8 302.4 924.0 305.0 924.0 307.0 C924.0 309.0 924.0 311.1 924.3 312.4 C924.6 313.7 924.9 314.2 926.0 314.8 C927.1 315.4 929.2 315.7 931.0 316.2 C932.8 316.7 936.0 317.4 937.0 317.6" stroke="#000" stroke-width="2" fill="none"/>
<path d="M929.2 302.0 L938.0 298.5 L948.2 298.6 L948.2 312.4 L939.0 317.4 L929.6 315.9 Z" stroke="#000" stroke-width="1.2" fill="#fff"/>
<path d="M929.2 302.0 L938.0 299.5 L940.0 303.5 L931.0 305.5 Z" stroke="#333" stroke-width="0.7" fill="#fff"/>
<path d="M933.0 306.0 L933.0 316.0" stroke="#999" stroke-width="0.7" fill="none"/>
<path d="M935.5 305.0 L935.5 316.6" stroke="#999" stroke-width="0.7" fill="none"/>
<ellipse cx="943.0" cy="310.3" rx="4" ry="5.6" fill="#fff" stroke="#000" stroke-width="2"/>
<ellipse cx="943.3" cy="310.3" rx="1.2" ry="3" fill="none" stroke="#222" stroke-width="0.8"/>
<path d="M937.0 299.0 L937.5 293.0 L939.5 290.5 L940.8 286.8 L942.3 290.5 L945.0 292.5 L946.0 298.0 L942.0 301.5 Z" stroke="#000" stroke-width="1" fill="#2a2a2a"/>
<path d="M938.5 294.5 L944.5 294.5" stroke="#bbb" stroke-width="0.6" fill="none"/>
<path d="M822.8 451.0 C823.4 448.4 825.0 449.0 826.0 448.6 C827.0 448.2 828.1 447.9 828.8 448.5 C829.5 449.1 830.0 449.3 830.2 452.0 C830.4 454.7 830.7 461.9 830.2 464.5 C829.7 467.1 828.1 466.8 827.0 467.4 C825.9 467.9 824.4 468.4 823.6 467.8 C822.9 467.2 822.6 466.8 822.5 464.0 C822.4 461.2 822.2 453.6 822.8 451.0 Z" stroke="#000" stroke-width="1.3" fill="#fff"/>
<path d="M824.5 452.5 L828.6 451.9" stroke="#222" stroke-width="1.3" fill="none"/>
<path d="M824.5 455.5 L828.6 454.9" stroke="#222" stroke-width="1.3" fill="none"/>
<path d="M824.5 458.5 L828.6 457.9" stroke="#222" stroke-width="1.3" fill="none"/>
<path d="M824.5 461.5 L828.6 460.9" stroke="#222" stroke-width="1.3" fill="none"/>
<path d="M824.5 464.5 L828.6 463.9" stroke="#222" stroke-width="1.3" fill="none"/>
<path d="M836.2 459.0 C836.7 456.2 837.7 456.5 839.0 456.2 C840.3 455.9 842.7 456.4 844.0 457.0 C845.3 457.6 846.5 457.3 847.0 460.0 C847.5 462.7 847.5 470.3 847.0 473.0 C846.5 475.7 845.3 475.5 844.0 476.0 C842.7 476.5 840.3 476.5 839.0 476.0 C837.7 475.5 836.7 475.8 836.2 473.0 C835.7 470.2 835.7 461.8 836.2 459.0 Z" stroke="#000" stroke-width="1.3" fill="#fff"/>
<path d="M840.0 457.0 L840.0 476.0" stroke="#555" stroke-width="0.8" fill="none"/>
<circle cx="843" cy="463.5" r="2" fill="#fff" stroke="#000" stroke-width="1"/>
<circle cx="843" cy="469.5" r="2" fill="#fff" stroke="#000" stroke-width="1"/>
<path d="M833.4 570.0 L835.8 569.5 L839.8 610.0 L837.4 610.5 Z" stroke="#222" stroke-width="0.9" fill="#fff"/>
<circle cx="834.6" cy="569.6" r="1.2" fill="#111"/>
<path d="M835.3 609.5 L841.5 607.8 L843.3 612.0 L842.0 616.0 L837.5 616.3 L835.0 612.5 Z" stroke="#000" stroke-width="0.9" fill="#2a2a2a"/>
<path d="M1037.0 325.5 C1037.9 324.8 1039.8 323.2 1041.0 323.5 C1042.2 323.8 1043.8 325.8 1044.5 327.0 C1045.2 328.2 1045.8 329.7 1045.5 331.0 C1045.2 332.3 1044.1 334.2 1043.0 335.0 C1041.9 335.8 1040.2 336.0 1039.0 335.5 C1037.8 335.0 1036.1 333.2 1035.5 332.0 C1034.9 330.8 1035.2 329.1 1035.5 328.0 C1035.8 326.9 1036.1 326.2 1037.0 325.5 Z" stroke="#111" stroke-width="1" fill="#333"/>
<circle cx="1040.5" cy="329.5" r="1.5" fill="#888"/>
<circle cx="1052.2" cy="333" r="1.3" fill="#000"/>
<path d="M1131.0 568.3 L1146.0 561.5 L1147.0 588.5 L1142.2 588.8 L1132.1 581.8 Z" stroke="#000" stroke-width="1.6" fill="#fff"/>
<path d="M1131.5 570.0 L1146.5 563.5" stroke="#000" stroke-width="1" fill="none"/>
<path d="M1135.5 566.5 L1136.0 585.0" stroke="#555" stroke-width="0.8" fill="none"/>
<path d="M1138.5 565.0 L1139.0 587.0" stroke="#555" stroke-width="0.8" fill="none"/>
<path d="M1142.0 563.5 C1143.3 562.4 1145.9 562.0 1148.0 561.5 C1150.1 561.0 1153.4 560.0 1154.8 560.6 C1156.2 561.2 1156.2 562.3 1156.5 565.0 C1156.8 567.7 1157.1 574.2 1156.9 577.0 C1156.7 579.8 1156.8 580.6 1155.5 582.0 C1154.2 583.4 1151.2 584.5 1149.0 585.5 C1146.8 586.5 1143.6 588.4 1142.2 588.1 C1140.8 587.9 1140.8 587.4 1140.5 584.0 C1140.2 580.6 1140.0 571.4 1140.3 568.0 C1140.5 564.6 1140.7 564.6 1142.0 563.5 Z" stroke="#000" stroke-width="2.5" fill="#fff"/>
<path d="M1135.0 555.0 L1138.8 550.9 L1142.5 555.0 L1143.2 563.0 L1139.0 565.4 L1134.5 563.5 Z" stroke="#000" stroke-width="1" fill="#222"/>
<path d="M1169.0 546.3 L1184.0 539.5 L1185.0 566.5 L1180.2 566.8 L1170.1 559.8 Z" stroke="#000" stroke-width="1.6" fill="#fff"/>
<path d="M1169.5 548.0 L1184.5 541.5" stroke="#000" stroke-width="1" fill="none"/>
<path d="M1173.5 544.5 L1174.0 563.0" stroke="#555" stroke-width="0.8" fill="none"/>
<path d="M1176.5 543.0 L1177.0 565.0" stroke="#555" stroke-width="0.8" fill="none"/>
<path d="M1180.0 541.5 C1181.3 540.4 1183.9 540.0 1186.0 539.5 C1188.1 539.0 1191.4 538.0 1192.8 538.6 C1194.2 539.2 1194.2 540.3 1194.5 543.0 C1194.8 545.7 1195.1 552.2 1194.9 555.0 C1194.7 557.8 1194.8 558.6 1193.5 560.0 C1192.2 561.4 1189.2 562.5 1187.0 563.5 C1184.8 564.5 1181.6 566.4 1180.2 566.1 C1178.8 565.9 1178.8 565.4 1178.5 562.0 C1178.2 558.6 1178.0 549.4 1178.3 546.0 C1178.5 542.6 1178.7 542.6 1180.0 541.5 Z" stroke="#000" stroke-width="2.5" fill="#fff"/>
<path d="M1173.0 533.0 L1176.8 528.9 L1180.5 533.0 L1181.2 541.0 L1177.0 543.4 L1172.5 541.5 Z" stroke="#000" stroke-width="1" fill="#222"/>
<ellipse cx="1167.3" cy="595.2" rx="2.6" ry="1.9" fill="#fff" stroke="#000" stroke-width="0.9"/>
<path d="M935.0 669.5 C936.0 668.2 938.4 665.6 940.0 664.0 C941.6 662.4 943.8 659.9 944.9 659.7 C946.0 659.5 946.1 658.6 946.5 663.0 C946.9 667.4 947.2 681.7 947.1 686.0 C947.0 690.3 947.2 687.7 946.0 689.0 C944.8 690.3 941.7 692.7 940.0 694.0 C938.3 695.3 936.7 697.2 935.8 697.0 C934.9 696.8 934.9 697.2 934.6 693.0 C934.4 688.8 934.2 675.9 934.3 672.0 C934.4 668.1 934.0 670.8 935.0 669.5 Z" stroke="#000" stroke-width="2" fill="#fff"/>
<path d="M921.4 676.0 L925.5 674.8 L926.5 683.8 L922.0 683.5 Z" stroke="#000" stroke-width="1" fill="#444"/>
<path d="M925.5 679.3 L934.0 678.5" stroke="#000" stroke-width="1.6" fill="none"/>
<circle cx="932" cy="678" r="2" fill="#333"/>
<circle cx="927.5" cy="687.5" r="0.9" fill="#000"/>
<circle cx="931" cy="690.5" r="0.9" fill="#000"/>
</g>
<text x="871.0" y="357.4" font-size="8.6" font-weight="bold" fill="#111" font-family="Liberation Sans">1</text>
<text x="1018.0" y="291.5" font-size="8.6" font-weight="bold" fill="#111" font-family="Liberation Sans">7</text>
<text x="1018.7" y="333.0" font-size="8.6" font-weight="bold" fill="#111" font-family="Liberation Sans">3</text>
<text x="1064.3" y="336.3" font-size="8.6" font-weight="bold" fill="#111" font-family="Liberation Sans">8</text>
<text x="839.5" y="447.0" font-size="8.6" font-weight="bold" fill="#111" font-family="Liberation Sans">9</text>
<text x="856.5" y="461.2" font-size="8.6" font-weight="bold" fill="#111" font-family="Liberation Sans">4</text>
<text x="1051.4" y="452.6" font-size="8.6" font-weight="bold" fill="#111" font-family="Liberation Sans">5</text>
<text x="816.3" y="576.1" font-size="8.6" font-weight="bold" fill="#111" font-family="Liberation Sans">6</text>
<text x="1167.8" y="577.0" font-size="8.6" font-weight="bold" fill="#111" font-family="Liberation Sans">1</text>
<text x="1177.8" y="590.5" font-size="8.6" font-weight="bold" fill="#111" font-family="Liberation Sans">2</text>
<text x="918.1" y="662.5" font-size="8.6" font-weight="bold" fill="#111" font-family="Liberation Sans">10</text>
<text x="904.7" y="700.0" font-size="8.6" font-weight="bold" fill="#111" font-family="Liberation Sans">12</text>
<text x="925.9" y="710.6" font-size="8.6" font-weight="bold" fill="#111" font-family="Liberation Sans">11</text>
<text x="65.77" y="50.80" font-size="10.2" fill="#111" stroke="#111" stroke-width="0.15" textLength="49.69" lengthAdjust="spacingAndGlyphs">D000001 -</text>
<text x="568.78" y="52.90" font-size="13.5" font-weight="bold" fill="#111" textLength="71.03" lengthAdjust="spacingAndGlyphs">K010.00.03</text>
<text x="288.05" y="74.70" font-size="12" font-weight="bold" fill="#111" textLength="130.51" lengthAdjust="spacingAndGlyphs">KABİN ELEKTRİĞİ (3)</text>
<text x="296.67" y="89.70" font-size="12" font-weight="bold" fill="#111" textLength="113.09" lengthAdjust="spacingAndGlyphs">CAB ELECTRIC (3)</text>
<text x="73.58" y="107.00" font-size="10.5" font-weight="bold" fill="#111" textLength="14.32" lengthAdjust="spacingAndGlyphs">No</text>
<text x="95.10" y="107.00" font-size="10.5" font-weight="bold" fill="#111" textLength="45.21" lengthAdjust="spacingAndGlyphs">Parça No</text>
<text x="155.00" y="107.00" font-size="10.5" font-weight="bold" fill="#111" textLength="48.75" lengthAdjust="spacingAndGlyphs">Parça Adı</text>
<text x="411.91" y="107.00" font-size="10.5" font-weight="bold" fill="#111" textLength="22.21" lengthAdjust="spacingAndGlyphs">Adet</text>
<text x="438.70" y="107.00" font-size="10.5" font-weight="bold" fill="#111" textLength="20.53" lengthAdjust="spacingAndGlyphs">S.K.</text>
<text x="465.50" y="107.00" font-size="10.5" font-weight="bold" fill="#111" textLength="39.79" lengthAdjust="spacingAndGlyphs">Bas.S.N</text>
<text x="513.99" y="107.00" font-size="10.5" font-weight="bold" fill="#111" textLength="34.73" lengthAdjust="spacingAndGlyphs">Bit.S.N</text>
<text x="556.80" y="107.00" font-size="10.5" font-weight="bold" fill="#111" textLength="19.68" lengthAdjust="spacingAndGlyphs">Y.K.</text>
<text x="600.29" y="107.00" font-size="10.5" font-weight="bold" fill="#111" textLength="17.81" lengthAdjust="spacingAndGlyphs">Not</text>
<text x="73.58" y="122.80" font-size="10.5" font-weight="bold" fill="#111" textLength="14.32" lengthAdjust="spacingAndGlyphs">No</text>
<text x="94.69" y="122.80" font-size="10.5" font-weight="bold" fill="#111" textLength="36.69" lengthAdjust="spacingAndGlyphs">Part no</text>
<text x="282.60" y="122.80" font-size="10.5" font-weight="bold" fill="#111" textLength="58.07" lengthAdjust="spacingAndGlyphs">Description</text>
<text x="414.52" y="122.80" font-size="10.5" font-weight="bold" fill="#111" textLength="16.78" lengthAdjust="spacingAndGlyphs">Qty</text>
<text x="441.92" y="122.80" font-size="10.5" font-weight="bold" fill="#111" textLength="13.54" lengthAdjust="spacingAndGlyphs">SC</text>
<text x="463.60" y="122.80" font-size="10.5" font-weight="bold" fill="#111" textLength="43.55" lengthAdjust="spacingAndGlyphs">S/N from</text>
<text x="516.30" y="122.80" font-size="10.5" font-weight="bold" fill="#111" textLength="30.13" lengthAdjust="spacingAndGlyphs">S/N to</text>
<text x="557.10" y="122.80" font-size="10.5" font-weight="bold" fill="#111" textLength="18.19" lengthAdjust="spacingAndGlyphs">ICA</text>
<text x="597.91" y="122.80" font-size="10.5" font-weight="bold" fill="#111" textLength="22.91" lengthAdjust="spacingAndGlyphs">Note</text>
<text x="78.20" y="141.00" font-size="8.1" fill="#1a1a1a" stroke="#1a1a1a" stroke-width="0.2">1</text>
<text x="95.10" y="141.00" font-size="8.1" fill="#1a1a1a" stroke="#1a1a1a" stroke-width="0.2" textLength="46.89" lengthAdjust="spacingAndGlyphs">M117600100</text>
<text x="159.10" y="141.00" font-size="8.1" fill="#1a1a1a" stroke="#1a1a1a" stroke-width="0.2" textLength="50.86" lengthAdjust="spacingAndGlyphs">SES SİSTEMİ</text>
<text x="286.30" y="141.00" font-size="8.1" fill="#1a1a1a" stroke="#1a1a1a" stroke-width="0.2" textLength="65.11" lengthAdjust="spacingAndGlyphs">SOUND SYSTEM</text>
<text x="420.60" y="141.00" font-size="8.1" fill="#1a1a1a" stroke="#1a1a1a" stroke-width="0.2">1</text>
<text x="78.40" y="155.90" font-size="8.1" fill="#1a1a1a" stroke="#1a1a1a" stroke-width="0.2">2</text>
<text x="95.10" y="155.90" font-size="8.1" fill="#1a1a1a" stroke="#1a1a1a" stroke-width="0.2" textLength="36.69" lengthAdjust="spacingAndGlyphs">F9925258</text>
<text x="158.79" y="155.90" font-size="8.1" fill="#1a1a1a" stroke="#1a1a1a" stroke-width="0.2" textLength="50.57" lengthAdjust="spacingAndGlyphs">RADYOTEYP</text>
<text x="285.99" y="155.90" font-size="8.1" fill="#1a1a1a" stroke="#1a1a1a" stroke-width="0.2" textLength="47.03" lengthAdjust="spacingAndGlyphs">RADIOTAPE</text>
<text x="420.60" y="155.90" font-size="8.1" fill="#1a1a1a" stroke="#1a1a1a" stroke-width="0.2">1</text>
<text x="78.50" y="170.60" font-size="8.1" fill="#1a1a1a" stroke="#1a1a1a" stroke-width="0.2">3</text>
<text x="95.10" y="170.60" font-size="8.1" fill="#1a1a1a" stroke="#1a1a1a" stroke-width="0.2" textLength="36.69" lengthAdjust="spacingAndGlyphs">F9925256</text>
<text x="158.79" y="170.60" font-size="8.1" fill="#1a1a1a" stroke="#1a1a1a" stroke-width="0.2" textLength="45.58" lengthAdjust="spacingAndGlyphs">HOPARLÖR</text>
<text x="286.30" y="170.60" font-size="8.1" fill="#1a1a1a" stroke="#1a1a1a" stroke-width="0.2" textLength="38.47" lengthAdjust="spacingAndGlyphs">SPEAKER</text>
<text x="420.80" y="170.60" font-size="8.1" fill="#1a1a1a" stroke="#1a1a1a" stroke-width="0.2">2</text>
<text x="78.60" y="185.50" font-size="8.1" fill="#1a1a1a" stroke="#1a1a1a" stroke-width="0.2">4</text>
<text x="95.10" y="185.50" font-size="8.1" fill="#1a1a1a" stroke="#1a1a1a" stroke-width="0.2" textLength="36.69" lengthAdjust="spacingAndGlyphs">F9925266</text>
<text x="158.79" y="185.50" font-size="8.1" fill="#1a1a1a" stroke="#1a1a1a" stroke-width="0.2" textLength="26.82" lengthAdjust="spacingAndGlyphs">KAPAK</text>
<text x="286.29" y="185.50" font-size="8.1" fill="#1a1a1a" stroke="#1a1a1a" stroke-width="0.2" textLength="29.42" lengthAdjust="spacingAndGlyphs">COVER</text>
<text x="420.80" y="185.50" font-size="8.1" fill="#1a1a1a" stroke="#1a1a1a" stroke-width="0.2">2</text>
<text x="592.01" y="930.00" font-size="10.6" font-weight="bold" fill="#111" textLength="47.69" lengthAdjust="spacingAndGlyphs">HMK  62T</text>
<text x="711.28" y="44.90" font-size="13.5" font-weight="bold" fill="#111" textLength="71.43" lengthAdjust="spacingAndGlyphs">K010.00.04</text>
<text x="1233.07" y="40.90" font-size="10.2" fill="#111" stroke="#111" stroke-width="0.15" textLength="49.17" lengthAdjust="spacingAndGlyphs">D000001 -</text>
<text x="933.36" y="74.50" font-size="12" font-weight="bold" fill="#111" textLength="130.01" lengthAdjust="spacingAndGlyphs">KABİN ELEKTRİĞİ (4)</text>
<text x="941.97" y="90.00" font-size="12" font-weight="bold" fill="#111" textLength="113.19" lengthAdjust="spacingAndGlyphs">CAB ELECTRIC (4)</text>
<text x="711.49" y="927.80" font-size="10.3" font-weight="bold" fill="#111" textLength="52.23" lengthAdjust="spacingAndGlyphs">HMK 62SS</text>
<text x="402.87" y="972.00" font-size="12.5" fill="#1e1e1e" textLength="54.79" lengthAdjust="spacingAndGlyphs">215 / 347</text>
<text x="1273.57" y="971.90" font-size="12.3" fill="#333" textLength="44.48" lengthAdjust="spacingAndGlyphs">84.40%</text>
</svg>
</body></html>
